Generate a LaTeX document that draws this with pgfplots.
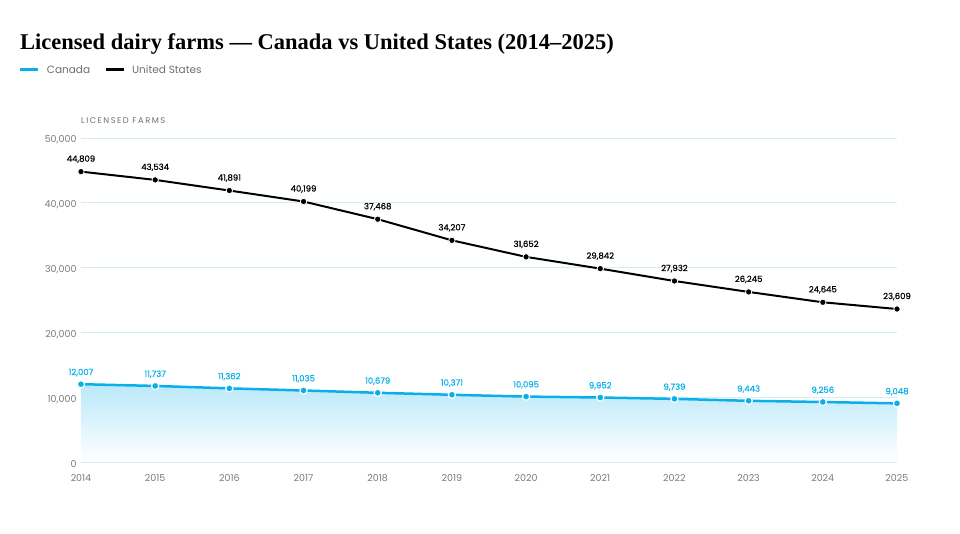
\documentclass[border=0pt]{standalone}
\usepackage{pgfplots}
\pgfplotsset{compat=1.18}
\usepackage{fontspec}
\setmainfont{Poppins}
\newfontfamily\titlefont{Liberation Serif}
\definecolor{cablue}{HTML}{0AAFEA}
\definecolor{gridc}{HTML}{D3ECF7}
\definecolor{tickc}{HTML}{7A7A7A}
\definecolor{labc}{HTML}{6E6E6E}
\begin{document}
\begin{tikzpicture}[x=1pt,y=1pt]
\useasboundingbox (0,0) rectangle (960,534);
\node[anchor=base west, font=\titlefont\bfseries\fontsize{22.5}{26}\selectfont, inner sep=0] at (20,484) {Licensed dairy farms — Canada vs United States (2014–2025)};
\node[anchor=west, inner sep=0, text=labc, font=\fontsize{8.3}{10}\selectfont\addfontfeature{LetterSpace=18}] at (81,413) {LICENSED FARMS};
\begin{axis}[
  at={(81pt,72pt)}, anchor=south west,
  scale only axis, width=816pt, height=324pt,
  xmin=2014, xmax=2025, ymin=0, ymax=50000,
  clip=false,
  axis line style={draw=none},
  major tick length=0pt,
  ymajorgrids, grid style={gridc, line width=0.8pt},
  xtick={2014,...,2025}, ytick={0,10000,...,50000},
  scaled y ticks=false,
  /pgf/number format/assume math mode=true,
  xticklabel style={/pgf/number format/1000 sep={}, yshift=-9pt},
  yticklabel style={/pgf/number format/1000 sep={,}, xshift=-1pt, yshift=-2pt},
  tick label style={font=\fontsize{9.5}{11}\selectfont, text=tickc},
  legend style={at={(axis description cs:-0.080,1.210)}, anchor=west, draw=none, fill=none,
    font=\fontsize{10.5}{12}\selectfont, text=labc, legend columns=2,
    /tikz/every even column/.append style={column sep=12pt}},
  legend image code/.code={\draw[#1, mark=none, line width=3pt] (0pt,0pt) -- (18pt,0pt);},
  /pgf/number format/.cd, fixed, precision=0, 1000 sep={,},
]
\addplot[draw=none, shade, top color=cablue!28, bottom color=white, forget plot] table {
x y
2014 12007
2015 11737
2016 11362
2017 11035
2018 10679
2019 10371
2020 10095
2021 9952
2022 9739
2023 9443
2024 9256
2025 9048
} \closedcycle;
\addplot[cablue, line width=2.5pt, mark=*, mark size=3.6pt,
  mark options={fill=cablue, draw=white, line width=1.2pt},
  nodes near coords,
  nodes near coords style={font=\fontsize{8.5}{10}\selectfont\addfontfeature{FakeBold=0.6}, text=cablue, anchor=south, yshift=4pt}] table {
x y
2014 12007
2015 11737
2016 11362
2017 11035
2018 10679
2019 10371
2020 10095
2021 9952
2022 9739
2023 9443
2024 9256
2025 9048
};
\addlegendentry{\hspace{5pt}Canada}
\addplot[black, line width=2pt, mark=*, mark size=3.2pt,
  mark options={fill=black, draw=white, line width=0.8pt},
  nodes near coords,
  nodes near coords style={font=\fontsize{8.5}{10}\selectfont\addfontfeature{FakeBold=0.6}, text=black, anchor=south, yshift=5pt}] table {
x y
2014 44809
2015 43534
2016 41891
2017 40199
2018 37468
2019 34207
2020 31652
2021 29842
2022 27932
2023 26245
2024 24645
2025 23609
};
\addlegendentry{\hspace{5pt}United States}
\end{axis}
\end{tikzpicture}
\end{document}
